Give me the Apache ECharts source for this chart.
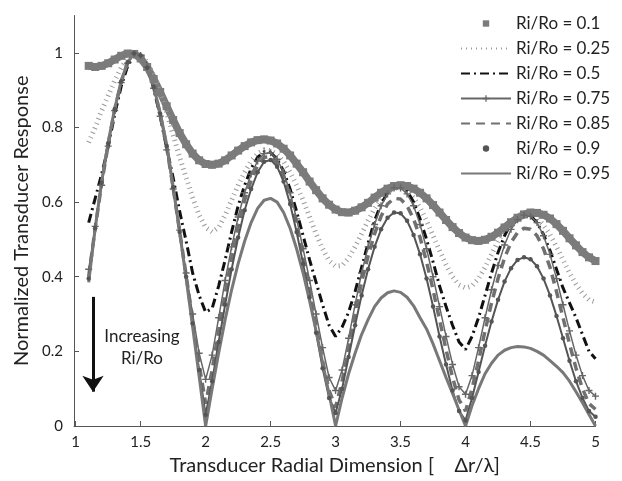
<!DOCTYPE html>
<html>
<head>
<meta charset="utf-8">
<script src="https://cdn.jsdelivr.net/npm/echarts@6/dist/echarts.min.js"></script>
<style>
  html, body { margin: 0; padding: 0; background: #fff; }
  #chart { width: 622px; height: 481px; }
</style>
</head>
<body>
<div id="chart"></div>
<script>
// Radial dimension Δr/λ at which each response was sampled
const radialDim = [
  1.10, 1.15, 1.20, 1.25, 1.30, 1.35, 1.40, 1.45, 1.50, 1.55,
  1.60, 1.65, 1.70, 1.75, 1.80, 1.85, 1.90, 1.95, 2.00, 2.05,
  2.10, 2.15, 2.20, 2.25, 2.30, 2.35, 2.40, 2.45, 2.50, 2.55,
  2.60, 2.65, 2.70, 2.75, 2.80, 2.85, 2.90, 2.95, 3.00, 3.05,
  3.10, 3.15, 3.20, 3.25, 3.30, 3.35, 3.40, 3.45, 3.50, 3.55,
  3.60, 3.65, 3.70, 3.75, 3.80, 3.85, 3.90, 3.95, 4.00, 4.05,
  4.10, 4.15, 4.20, 4.25, 4.30, 4.35, 4.40, 4.45, 4.50, 4.55,
  4.60, 4.65, 4.70, 4.75, 4.80, 4.85, 4.90, 4.95, 5.00
];

const ratioLabels = [
  'Ri/Ro = 0.1', 'Ri/Ro = 0.25', 'Ri/Ro = 0.5', 'Ri/Ro = 0.75',
  'Ri/Ro = 0.85', 'Ri/Ro = 0.9', 'Ri/Ro = 0.95'
];

// Normalized response, one array per inner/outer radius ratio
const resp010 = [
  .965, .962, .965, .972, .982, .992, .998, .997, .985, .962,
  .930, .895, .857, .820, .785, .755, .730, .712, .702, .700,
  .703, .712, .725, .738, .750, .760, .766, .768, .765, .757,
  .743, .725, .703, .680, .655, .632, .610, .593, .580, .573,
  .572, .577, .586, .598, .612, .625, .636, .643, .645, .643,
  .636, .625, .610, .592, .572, .552, .533, .517, .505, .498,
  .496, .499, .507, .518, .532, .546, .558, .567, .572, .571,
  .566, .556, .541, .523, .503, .484, .466, .452, .442
];
const resp025 = [
  .760, .800, .845, .885, .925, .960, .985, .998, .995, .975,
  .940, .895, .840, .780, .720, .665, .612, .565, .532, .520,
  .532, .565, .605, .645, .680, .710, .730, .740, .738, .728,
  .708, .680, .645, .605, .560, .515, .475, .443, .428, .430,
  .450, .480, .515, .550, .583, .610, .628, .638, .638, .630,
  .612, .585, .550, .510, .470, .432, .400, .378, .370, .375,
  .395, .425, .460, .495, .525, .548, .562, .568, .566, .557,
  .538, .513, .480, .445, .410, .380, .355, .338, .332
];
const resp050 = [
  .545, .610, .675, .748, .835, .910, .965, .995, .995, .965,
  .905, .830, .745, .665, .575, .495, .410, .350, .305, .315,
  .375, .445, .520, .590, .645, .690, .720, .735, .733, .715,
  .683, .635, .575, .510, .445, .385, .325, .270, .240, .265,
  .305, .360, .425, .490, .550, .595, .625, .642, .643, .630,
  .600, .555, .500, .440, .375, .320, .270, .225, .205, .240,
  .290, .350, .410, .465, .510, .543, .560, .567, .563, .545,
  .513, .470, .420, .370, .330, .290, .245, .200, .180
];
const resp075 = [
  .420, .535, .645, .750, .845, .920, .972, .998, .993, .962,
  .905, .830, .740, .635, .525, .410, .300, .195, .125, .190,
  .290, .390, .480, .560, .625, .675, .710, .730, .732, .715,
  .680, .625, .555, .475, .390, .300, .210, .130, .095, .150,
  .235, .325, .410, .480, .540, .590, .622, .638, .638, .622,
  .590, .540, .475, .400, .320, .240, .165, .105, .085, .135,
  .210, .290, .365, .430, .485, .527, .553, .565, .562, .545,
  .510, .460, .395, .325, .255, .190, .135, .095, .080
];
const resp085 = [
  .400, .530, .650, .755, .848, .922, .974, .998, .993, .961,
  .908, .835, .748, .638, .522, .403, .285, .165, .060, .150,
  .255, .355, .450, .535, .605, .658, .698, .720, .722, .705,
  .668, .612, .540, .455, .365, .270, .175, .095, .050, .120,
  .210, .300, .385, .455, .515, .562, .595, .610, .608, .590,
  .555, .505, .440, .365, .285, .205, .130, .070, .040, .100,
  .175, .255, .330, .395, .450, .492, .518, .530, .527, .510,
  .475, .425, .360, .290, .220, .155, .100, .060, .045
];
const resp090 = [
  .395, .530, .652, .757, .849, .923, .975, .998, .993, .960,
  .909, .837, .750, .640, .520, .400, .275, .150, .030, .120,
  .225, .325, .420, .505, .578, .635, .680, .708, .713, .695,
  .655, .595, .520, .435, .345, .250, .155, .075, .035, .100,
  .185, .270, .350, .420, .480, .527, .558, .572, .570, .550,
  .512, .460, .395, .320, .240, .165, .095, .040, .015, .075,
  .145, .215, .280, .338, .387, .423, .445, .452, .447, .428,
  .395, .350, .295, .235, .175, .120, .075, .040, .025
];
const resp095 = [
  .385, .530, .655, .760, .850, .925, .975, .998, .993, .960,
  .910, .840, .755, .640, .520, .395, .265, .133, .000, .100,
  .195, .285, .365, .435, .495, .545, .583, .605, .610, .600,
  .572, .530, .475, .410, .335, .255, .170, .085, .000, .075,
  .140, .195, .245, .285, .320, .343, .357, .362, .358, .345,
  .322, .290, .260, .220, .175, .130, .087, .043, .000, .055,
  .100, .140, .168, .190, .203, .210, .213, .212, .208, .200,
  .190, .175, .160, .143, .120, .092, .062, .031, .000
];

const xTicks = [1, 1.5, 2, 2.5, 3, 3.5, 4, 4.5, 5];
const yTicks = [0, 0.2, 0.4, 0.6, 0.8, 1];

// Annotation: arrow and caption in data coordinates
const arrowX = 1.133;
const arrowTop = 0.346;
const arrowTip = 0.092;
const captionLines = ['Increasing', 'Ri/Ro'];
const captionAt = [1.51, 0.21];

const FONT = 'Lato, "Open Sans", "DejaVu Sans", sans-serif';
const plusSymbol = 'path://M4,0H6V4H10V6H6V10H4V6H0V4H4Z';

function pairs(ys) {
  return radialDim.map((x, i) => [x, ys[i]]);
}

const chart = echarts.init(document.getElementById('chart'), null, { renderer: 'canvas' });

const option = {
  backgroundColor: '#fff',
  animation: false,
  grid: { left: 74, right: 26.5, top: 15.5, bottom: 53.5, containLabel: false },
  xAxis: {
    type: 'value',
    min: 0.987,
    max: 5,
    name: 'Transducer Radial Dimension [    \u0394r/\u03bb]',
    nameLocation: 'middle',
    nameGap: 30,
    nameTextStyle: { fontFamily: FONT, fontSize: 20, color: '#222' },
    axisLine: { show: true, onZero: false, lineStyle: { color: '#555', width: 1 } },
    axisTick: { show: true, inside: true, length: 5, customValues: xTicks, lineStyle: { color: '#555' } },
    axisLabel: { customValues: xTicks, fontFamily: FONT, fontSize: 15, color: '#222', margin: 9 },
    splitLine: { show: false }
  },
  yAxis: {
    type: 'value',
    min: 0,
    max: 1.1,
    name: 'Normalized Transducer Response',
    nameLocation: 'middle',
    nameGap: 32,
    nameTextStyle: { fontFamily: FONT, fontSize: 20, color: '#222' },
    axisLine: { show: true, onZero: false, lineStyle: { color: '#555', width: 1 } },
    axisTick: { show: true, inside: true, length: 5, customValues: yTicks, lineStyle: { color: '#555' } },
    axisLabel: { customValues: yTicks, fontFamily: FONT, fontSize: 15, color: '#222', margin: 11 },
    splitLine: { show: false }
  },
  legend: {
    orient: 'vertical',
    left: 455,
    top: 9,
    itemWidth: 50,
    itemHeight: 8,
    itemGap: 6,
    selectedMode: false,
    textStyle: { fontFamily: FONT, fontSize: 17, color: '#222', lineHeight: 19 },
    data: [
      { name: ratioLabels[0], lineStyle: { opacity: 0 } },
      { name: ratioLabels[1], itemStyle: { opacity: 0 } },
      { name: ratioLabels[2], itemStyle: { opacity: 0 } },
      { name: ratioLabels[3] },
      { name: ratioLabels[4], itemStyle: { opacity: 0 } },
      { name: ratioLabels[5], lineStyle: { opacity: 0 } },
      { name: ratioLabels[6], itemStyle: { opacity: 0 } }
    ]
  },
  series: [
    {
      name: ratioLabels[0], type: 'line', data: pairs(resp010),
      symbol: 'rect', symbolSize: 8, showSymbol: true, showAllSymbol: true,
      lineStyle: { color: '#7b7b7b', width: 7.5 }, itemStyle: { color: '#7b7b7b' }
    },
    {
      name: ratioLabels[1], type: 'line', data: pairs(resp025),
      symbol: 'none',
      lineStyle: { color: '#9a9a9a', width: 5, type: [1, 4], cap: 'butt' }, itemStyle: { color: '#9a9a9a' }
    },
    {
      name: ratioLabels[2], type: 'line', data: pairs(resp050),
      symbol: 'none',
      lineStyle: { color: '#111', width: 3, type: [9, 4, 2, 4] }, itemStyle: { color: '#111' }
    },
    {
      name: ratioLabels[3], type: 'line', data: pairs(resp075),
      symbol: plusSymbol, symbolSize: 7, showSymbol: true, showAllSymbol: true,
      lineStyle: { color: '#666', width: 1.5 }, itemStyle: { color: '#666' }
    },
    {
      name: ratioLabels[4], type: 'line', data: pairs(resp085),
      symbol: 'none',
      lineStyle: { color: '#707070', width: 3.5, type: [9, 6] }, itemStyle: { color: '#707070' }
    },
    {
      name: ratioLabels[5], type: 'line', data: pairs(resp090),
      symbol: 'circle', symbolSize: 4.5, showSymbol: true, showAllSymbol: true,
      lineStyle: { color: '#555', width: 2 }, itemStyle: { color: '#555' }
    },
    {
      name: ratioLabels[6], type: 'line', data: pairs(resp095),
      symbol: 'none',
      lineStyle: { color: '#787878', width: 3 }, itemStyle: { color: '#787878' }
    },
    {
      name: 'arrow', type: 'line', data: [],
      markLine: {
        silent: true,
        symbol: ['none', 'arrow'],
        symbolSize: 16,
        label: { show: false },
        lineStyle: { color: '#111', width: 3, type: 'solid' },
        data: [[{ coord: [arrowX, arrowTop] }, { coord: [arrowX, arrowTip] }]]
      }
    }
  ]
};

chart.setOption(option);

const captionPx = chart.convertToPixel({ gridIndex: 0 }, captionAt);
chart.setOption({
  graphic: [{
    type: 'text',
    x: captionPx[0],
    y: captionPx[1],
    silent: true,
    style: {
      text: captionLines.join('\n'),
      font: '17px ' + FONT,
      fill: '#222',
      align: 'center',
      verticalAlign: 'middle',
      lineHeight: 22
    }
  }]
});
</script>
</body>
</html>
